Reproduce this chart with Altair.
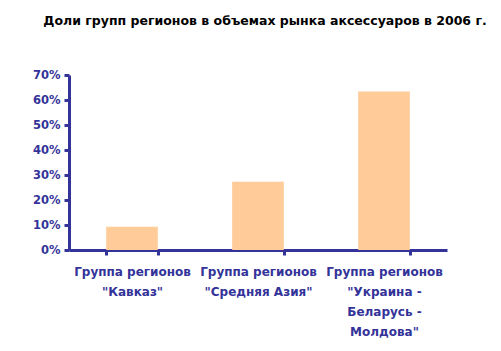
import altair as alt
import pandas as pd

categories = [
    'Группа регионов|"Кавказ"',
    'Группа регионов|"Средняя Азия"',
    'Группа регионов|"Украина -|Беларусь -|Молдова"',
]
shares = [0.093, 0.273, 0.634]

df = pd.DataFrame({"cat": categories, "share": shares})

AX = "#333399"

chart = (
    alt.Chart(df)
    .mark_bar(color="#FFCC99")
    .encode(
        x=alt.X(
            "cat:N",
            sort=categories,
            title=None,
            scale=alt.Scale(paddingInner=0.59, paddingOuter=0.295),
            axis=alt.Axis(
                labelAngle=0,
                labelExpr="split(datum.label, '|')",
                labelFont="DejaVu Sans",
                labelFontWeight="bold",
                labelFontSize=12,
                labelColor=AX,
                labelLineHeight=20,
                labelPadding=11,
                labelBaseline="top",
                domainColor=AX,
                domainWidth=3,
                tickColor=AX,
                tickWidth=3,
                tickSize=5,
                tickBand="extent",
            ),
        ),
        y=alt.Y(
            "share:Q",
            title=None,
            scale=alt.Scale(domain=[0, 0.7], nice=False),
            axis=alt.Axis(
                format=".0%",
                values=[0, 0.1, 0.2, 0.3, 0.4, 0.5, 0.6, 0.7],
                grid=False,
                labelFont="DejaVu Sans",
                labelFontWeight="bold",
                labelFontSize=11.5,
                labelColor=AX,
                labelPadding=4,
                domainColor=AX,
                domainWidth=3,
                tickColor=AX,
                tickWidth=3,
                tickSize=5,
            ),
        ),
    )
    .properties(
        width=378,
        height=175,
        autosize=alt.AutoSizeParams(type="none"),
        padding={"left": 69, "top": 75, "right": 54, "bottom": 101},
        title=alt.TitleParams(
            "Доли групп регионов в объемах рынка аксессуаров в 2006 г.",
            font="DejaVu Sans",
            fontSize=12.5,
            fontWeight="bold",
            color="black",
            anchor="middle",
            dx=7,
            offset=42,
        ),
    )
    .configure_view(stroke=None)
)

chart.save("out.html", embed_options={"renderer": "svg", "actions": False})
